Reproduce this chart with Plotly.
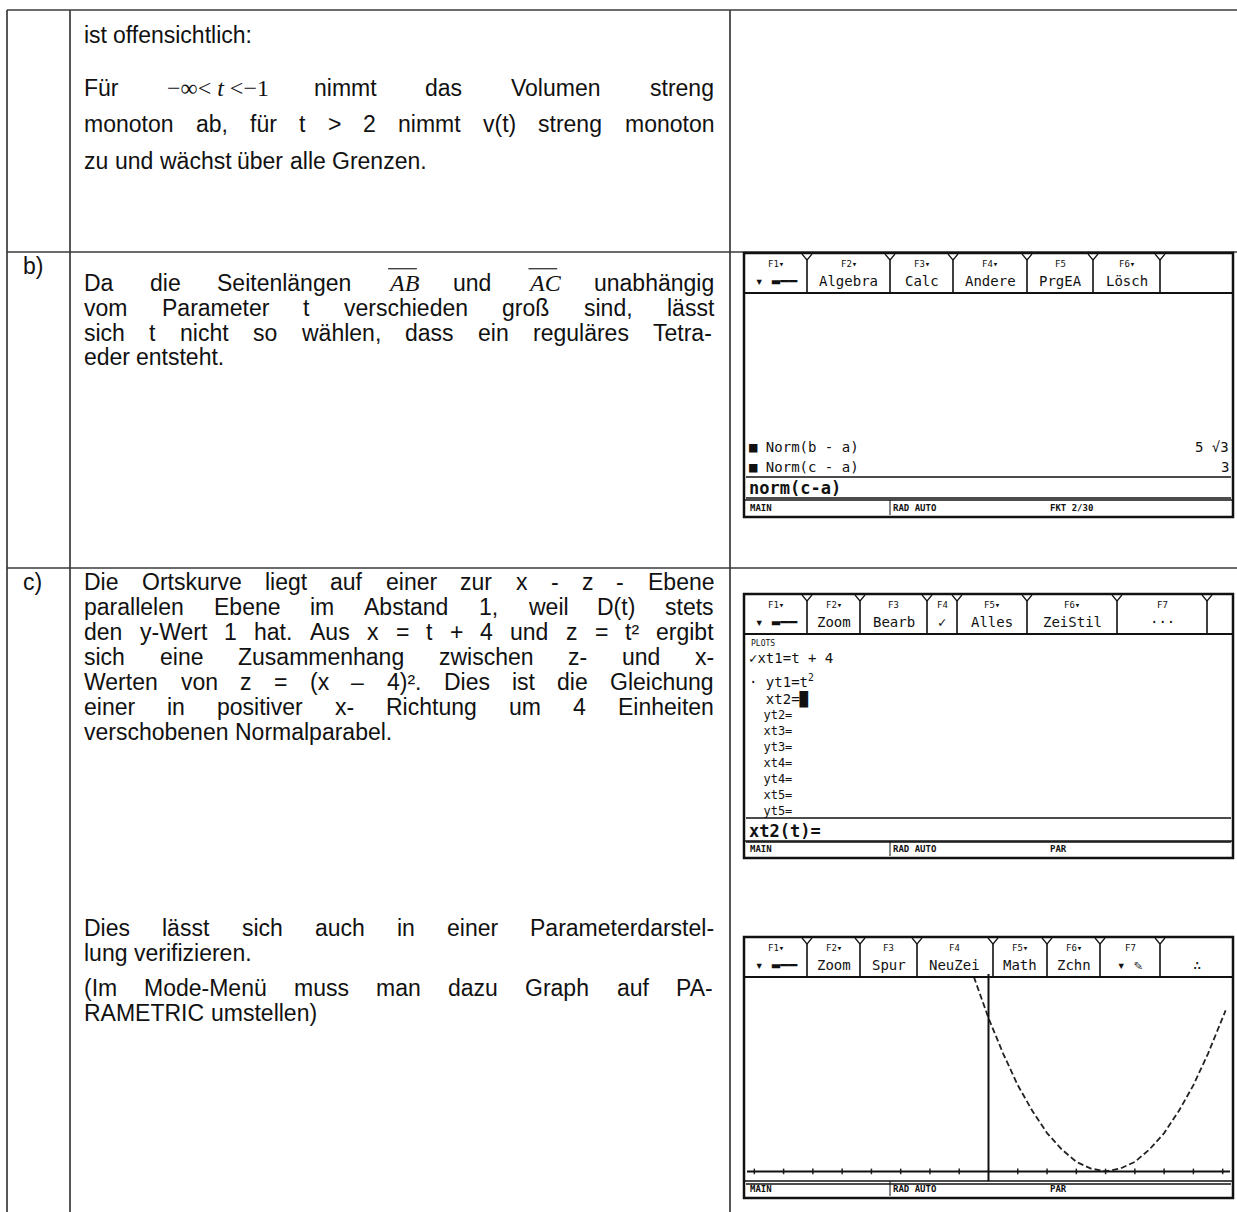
import plotly.graph_objects as go

W, H = 1237, 1212
FONT = "Liberation Sans, Arial, sans-serif"
SERIF = "Liberation Serif, Times New Roman, serif"
MONO = "DejaVu Sans Mono, monospace"
FS = 23

# ---------------- data (texts and values) ----------------
row_labels = ["", "b)", "c)"]

row1_lines = ["ist offensichtlich:",
              "Für −∞<\u00a0t\u00a0<−1 nimmt das Volumen streng",
              "monoton ab, für t > 2 nimmt v(t) streng monoton",
              "zu und wächst über alle Grenzen."]
row1_just = [False, True, True, False]

rowb_lines = ["Da die Seitenlängen AB und AC unabhängig",
              "vom Parameter t verschieden groß sind, lässt",
              "sich t nicht so wählen, dass ein reguläres Tetra-",
              "eder entsteht."]
rowb_just = [True, True, True, False]

rowc_lines = ["Die Ortskurve liegt auf einer zur x - z - Ebene",
              "parallelen Ebene im Abstand 1, weil D(t) stets",
              "den y-Wert 1 hat. Aus x = t + 4 und z = t² ergibt",
              "sich eine Zusammenhang zwischen z- und x-",
              "Werten von z = (x – 4)². Dies ist die Gleichung",
              "einer in positiver x- Richtung um 4 Einheiten",
              "verschobenen Normalparabel."]
rowc_just = [True, True, True, True, True, True, False]

rowc2_lines = ["Dies lässt sich auch in einer Parameterdarstel-",
               "lung verifizieren."]
rowc2_just = [True, False]
rowc3_lines = ["(Im Mode-Menü muss man dazu Graph auf PA-",
               "RAMETRIC umstellen)"]
rowc3_just = [True, False]

overlined = ["AB", "AC"]

# calculator 1 (Home screen)
calc1_tab_top = ["F1▾", "F2▾", "F3▾", "F4▾", "F5", "F6▾", ""]
calc1_tab_name = ["▾ ▬━━", "Algebra", "Calc", "Andere", "PrgEA", "Lösch", ""]
calc1_hist = ["■ Norm(b - a)", "■ Norm(c - a)"]
calc1_res = ["5 √3", "3"]
calc1_entry = "norm(c-a)"
calc1_status = ["MAIN", "RAD AUTO", "FKT 2/30"]

# calculator 2 (Y= editor, parametric)
calc2_tab_top = ["F1▾", "F2▾", "F3", "F4", "F5▾", "F6▾", "F7", ""]
calc2_tab_name = ["▾ ▬━━", "Zoom", "Bearb", "✓", "Alles", "ZeiStil", "···", ""]
calc2_title = "PLOTS"
calc2_defs = ["✓xt1=t + 4", "· yt1=t<sup>2</sup>", "  xt2=█"]
calc2_empty = ["  yt2=", "  xt3=", "  yt3=", "  xt4=", "  yt4=", "  xt5=", "  yt5="]
calc2_entry = "xt2(t)="
calc2_status = ["MAIN", "RAD AUTO", "PAR"]

# calculator 3 (graph)
calc3_tab_top = ["F1▾", "F2▾", "F3", "F4", "F5▾", "F6▾", "F7", ""]
calc3_tab_name = ["▾ ▬━━", "Zoom", "Spur", "NeuZei", "Math", "Zchn", "▾ ✎", "∴"]
calc3_status = ["MAIN", "RAD AUTO", "PAR"]
graph_x = [-0.5, 0.0, 0.5, 1.0, 1.5, 2.0, 2.5, 3.0, 3.5, 4.0, 4.5, 5.0, 5.5, 6.0, 6.5, 7.0, 7.5, 8.1]
graph_z = [20.3, 16.0, 12.3, 9.0, 6.3, 4.0, 2.3, 1.0, 0.3, 0.0, 0.3, 1.0, 2.3, 4.0, 6.3, 9.0, 12.3, 16.8]
graph_ticks = [-8, -7, -6, -5, -4, -3, -2, -1, 1, 2, 3, 4, 5, 6, 7, 8]
graph_xrange = [-8.25, 8.25]
graph_yrange = [-1.0, 20.6]

# ---------------- helpers ----------------
AW = {' ': 278, '!': 278, '(': 333, ')': 333, '+': 584, ',': 278, '-': 333, '.': 278,
      '/': 278, ':': 278, ';': 278, '<': 584, '=': 584, '>': 584, '?': 556,
      'A': 667, 'B': 667, 'C': 722, 'D': 722, 'E': 667, 'F': 611, 'G': 778, 'H': 722,
      'I': 278, 'J': 500, 'K': 667, 'L': 556, 'M': 833, 'N': 722, 'O': 778, 'P': 667,
      'Q': 778, 'R': 722, 'S': 667, 'T': 611, 'U': 722, 'V': 667, 'W': 944, 'X': 667,
      'Y': 667, 'Z': 611, 'a': 556, 'b': 556, 'c': 500, 'd': 556, 'e': 556, 'f': 278,
      'g': 556, 'h': 556, 'i': 222, 'j': 222, 'k': 500, 'l': 222, 'm': 833, 'n': 556,
      'o': 556, 'p': 556, 'q': 556, 'r': 333, 's': 500, 't': 278, 'u': 556, 'v': 500,
      'w': 722, 'x': 500, 'y': 500, 'z': 500, 'ä': 556, 'ö': 556, 'ü': 556, 'ß': 611,
      '²': 333, '–': 556, '−': 584}


def px_x(x):
    return x / W


def px_y(y):
    return 1 - y / H


def esc(s):
    return s.replace("&", "&amp;").replace("<", "&lt;").replace(">", "&gt;")


annotations = []
shapes = []


def text(x, y, s, size=FS, family=FONT, color="#111", anchor="left", yanchor="middle",
         style=None, weight=None):
    font = dict(size=size, family=family, color=color)
    if style:
        font["style"] = style
    if weight:
        font["weight"] = weight
    annotations.append(dict(x=px_x(x), y=px_y(y), xref="paper", yref="paper", text=s,
                            showarrow=False, xanchor=anchor, yanchor=yanchor,
                            font=font, borderpad=0))


def line(x0, y0, x1, y1, width=1.5, color="#333", dash=None):
    d = dict(type="line", xref="paper", yref="paper", x0=px_x(x0), y0=px_y(y0),
             x1=px_x(x1), y1=px_y(y1), line=dict(color=color, width=width))
    if dash:
        d["line"]["dash"] = dash
    shapes.append(d)


def rect(x0, y0, x1, y1, width=2, color="#111", fill=None):
    d = dict(type="rect", xref="paper", yref="paper", x0=px_x(x0), y0=px_y(y0),
             x1=px_x(x1), y1=px_y(y1), line=dict(color=color, width=width))
    if fill:
        d["fillcolor"] = fill
    shapes.append(d)


TX0, TX1 = 83, 713


def token_info(tok):
    if "∞" in tok:
        html = "−∞&lt; <i>t</i> &lt;−1"
        return html, SERIF, 4.25, False, None
    if tok in overlined:
        return tok, SERIF, 1.25, True, "italic"
    em = sum(AW.get(c, 556) for c in tok) / 1000.0
    return esc(tok), FONT, em, False, None


def para(lines, ys, just):
    for s, y, j in zip(lines, ys, just):
        toks = [t for t in s.split(" ") if t]
        infos = [token_info(t) for t in toks]
        widths = [i[2] * FS for i in infos]
        if j and len(toks) > 1:
            gap = (TX1 - TX0 - sum(widths)) / (len(toks) - 1)
        else:
            gap = 0.278 * FS
        x = TX0
        for (html, fam, em, ov, st), w in zip(infos, widths):
            text(x, y, html, size=FS + (1 if fam == SERIF else 0), family=fam, style=st)
            if ov:
                line(x + 1, y - 0.62 * FS, x + w + 1, y - 0.62 * FS, width=1.2, color="#222")
            x += w + gap


# ---------------- table grid ----------------
GRID = "#3a3a3a"
line(7, 10, W, 10, 1.7, GRID)
line(7, 10, 7, H, 1.7, GRID)
line(70, 10, 70, H, 1.7, GRID)
line(730, 10, 730, H, 1.7, GRID)
line(7, 252, W, 252, 1.7, GRID)
line(7, 568, W, 568, 1.7, GRID)

text(22, 266, row_labels[1])
text(22, 582, row_labels[2])

para(row1_lines, [35, 88, 124, 161], row1_just)
para(rowb_lines, [283, 308, 333, 357], rowb_just)
para(rowc_lines, [582, 607, 632, 657, 682, 707, 732], rowc_just)
para(rowc2_lines, [928, 953], rowc2_just)
para(rowc3_lines, [988, 1013], rowc3_just)


# ---------------- calculators ----------------
def calc_frame(x0, y0, x1, y1, bounds, tops, names, status):
    rect(x0, y0, x1, y1, width=2.5)
    tb = y0 + 40
    line(x0, tb, x1, tb, 2, "#111")
    for i in range(len(bounds) - 1):
        a, b = bounds[i], bounds[i + 1]
        if i > 0:
            line(a, y0 + 7, a, tb, 1.6, "#111")
            line(a, y0 + 7, a - 5, y0 + 1, 1.2, "#111")
            line(a, y0 + 7, a + 5, y0 + 1, 1.2, "#111")
        if tops[i]:
            text((a + b) / 2, y0 + 11, tops[i], size=9, family=MONO, anchor="center")
        if names[i]:
            text((a + b) / 2, y0 + 28, names[i], size=14, family=MONO, anchor="center")
    # status bar
    line(x0, y1 - 17, x1, y1 - 17, 1.5, "#111")
    text(x0 + 5, y1 - 9, status[0], size=9, family=MONO, weight="bold")
    text(x0 + 148, y1 - 9, status[1], size=9, family=MONO, weight="bold")
    text(x0 + 305, y1 - 9, status[2], size=9, family=MONO, weight="bold")
    line(x0 + 146, y1 - 17, x0 + 146, y1 - 2, 1, "#111")


# calc 1
c1 = (744, 253, 1233, 517)
calc_frame(*c1, [745, 807, 890, 953, 1027, 1093, 1160, 1233], calc1_tab_top, calc1_tab_name, calc1_status)
for s, r, y in zip(calc1_hist, calc1_res, [447, 467]):
    text(748, y, esc(s), size=14, family=MONO)
    text(1230, y, r, size=14, family=MONO, anchor="right")
line(746, 477, 1231, 477, 1.3, "#111")
text(748, 488, esc(calc1_entry), size=17, family=MONO, weight="bold")
line(746, 498, 1231, 498, 1.3, "#111")

# calc 2
c2 = (744, 594, 1233, 858)
calc_frame(*c2, [745, 807, 860, 927, 957, 1027, 1117, 1207, 1233], calc2_tab_top, calc2_tab_name, calc2_status)
text(750, 643, calc2_title, size=8, family=MONO)
for s, y in zip(calc2_defs, [658, 681, 699]):
    text(748, y, s.replace(" ", "\u00a0"), size=14, family=MONO)
for i, s in enumerate(calc2_empty):
    text(748, 715 + 16 * i, s.replace(" ", "\u00a0"), size=12, family=MONO)
line(746, 818, 1231, 818, 1.3, "#111")
text(748, 831, calc2_entry, size=17, family=MONO, weight="bold")
line(746, 842, 1231, 842, 1.3, "#111")

# calc 3
c3 = (744, 937, 1233, 1198)
calc_frame(*c3, [745, 807, 860, 917, 993, 1047, 1100, 1160, 1233], calc3_tab_top, calc3_tab_name, calc3_status)
line(746, 1184, 1231, 1184, 1.3, "#111")

# graph axes of calculator 3 (drawn in data coordinates of x2/y2)
shapes.append(dict(type="line", xref="x2", yref="y2", x0=graph_xrange[0], x1=graph_xrange[1],
                   y0=0, y1=0, line=dict(color="#111", width=2)))
shapes.append(dict(type="line", xref="x2", yref="y2", x0=0, x1=0,
                   y0=graph_yrange[0] - 0.3, y1=graph_yrange[1], line=dict(color="#111", width=2)))

fig = go.Figure()
fig.add_trace(go.Scatter(x=graph_x, y=graph_z, mode="lines", xaxis="x2", yaxis="y2",
                         line=dict(color="#222", width=1.8, dash="6px,3px"),
                         hoverinfo="skip", showlegend=False))
fig.add_trace(go.Scatter(x=graph_ticks, y=[0] * len(graph_ticks), mode="markers",
                         xaxis="x2", yaxis="y2",
                         marker=dict(symbol="line-ns", size=4, line=dict(color="#222", width=1.5)),
                         hoverinfo="skip", showlegend=False))

fig.update_layout(
    width=W, height=H,
    margin=dict(l=0, r=0, t=0, b=0),
    paper_bgcolor="white", plot_bgcolor="rgba(0,0,0,0)",
    xaxis=dict(visible=False, range=[0, 1], domain=[0, 1]),
    yaxis=dict(visible=False, range=[0, 1], domain=[0, 1]),
    xaxis2=dict(domain=[747 / W, 1230 / W], range=graph_xrange, anchor="y2", visible=False),
    yaxis2=dict(domain=[1 - 1181 / H, 1 - 974 / H], range=graph_yrange, anchor="x2", visible=False),
    annotations=annotations,
    shapes=shapes,
    showlegend=False,
)

fig.write_html("out.html", config={"displayModeBar": False},
               post_script="document.body.style.margin='0';document.body.style.overflow='hidden';")
